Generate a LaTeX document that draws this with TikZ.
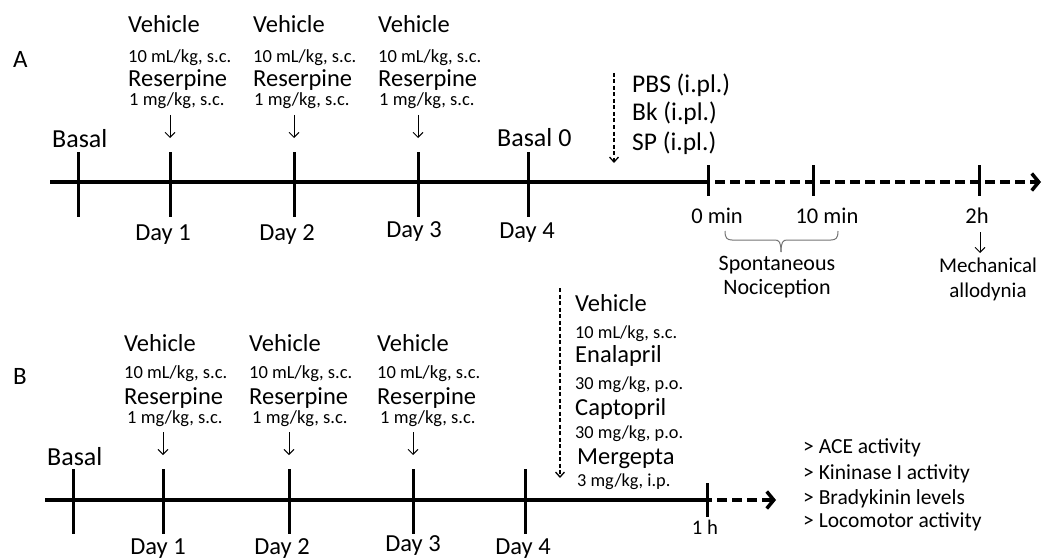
\documentclass[tikz,border=0pt]{standalone}
\usepackage{fontspec}
\setmainfont{Carlito}
\usetikzlibrary{arrows.meta}
\begin{document}
\begin{tikzpicture}[x=1pt,y=-1pt,
  lbl/.style={inner sep=0pt, anchor=base west},
  ctr/.style={inner sep=0pt, anchor=base},
  fbig/.style={font=\fontsize{24.5}{29}\selectfont},
  fsmall/.style={font=\fontsize{18.5}{22}\selectfont},
  fday/.style={font=\fontsize{24.5}{29}\selectfont},
  fbasal/.style={font=\fontsize{26}{30}\selectfont},
  fmid/.style={font=\fontsize{22.5}{27}\selectfont},
  fpbs/.style={font=\fontsize{25.5}{30}\selectfont},
  axis/.style={line width=4.2pt},
  dashaxis/.style={line width=4.2pt, dash pattern=on 10pt off 5pt, -{Straight Barb[length=7pt,width=17pt,line width=3.5pt]}},
  tick/.style={line width=3pt},
  thinarrow/.style={line width=0.9pt, -{Straight Barb[length=5pt,width=10pt,line width=0.9pt]}},
  dasharrow/.style={line width=1.3pt, dash pattern=on 4pt off 2.5pt, -{Straight Barb[length=5pt,width=9pt,line width=1.3pt]}},
  bracestyle/.style={line width=1pt, draw=black!55}
]
\useasboundingbox (0,0) rectangle (1043,559);

% ================= Panel A =================
\node[lbl, font=\fontsize{25}{29}\selectfont] (labA) at (13,68) {A};

\node[lbl,fbig] (a1v) at (128,33) {Vehicle};
\node[lbl,fsmall] (a1vd) at (128,63) {10 mL/kg, s.c.};
\node[lbl,fbig] (a1r) at (128,87) {Reserpine};
\node[lbl,fsmall] (a1rd) at (129,106) {1 mg/kg, s.c.};

\node[lbl,fbig] (a2v) at (253,33) {Vehicle};
\node[lbl,fsmall] (a2vd) at (253,63) {10 mL/kg, s.c.};
\node[lbl,fbig] (a2r) at (253,87) {Reserpine};
\node[lbl,fsmall] (a2rd) at (254,106) {1 mg/kg, s.c.};

\node[lbl,fbig] (a3v) at (378,33) {Vehicle};
\node[lbl,fsmall] (a3vd) at (378,63) {10 mL/kg, s.c.};
\node[lbl,fbig] (a3r) at (378,87) {Reserpine};
\node[lbl,fsmall] (a3rd) at (379,106) {1 mg/kg, s.c.};

\node[lbl,fbasal] (abasal) at (52,147) {Basal};
\node[lbl,fbasal] (abasal0) at (497,146.5) {Basal 0};

\node[lbl,fpbs] (pbs) at (632,93) {PBS (i.pl.)};
\node[lbl,fpbs] (bk) at (632,121) {Bk (i.pl.)};
\node[lbl,fpbs] (sp) at (632,150) {SP (i.pl.)};

\node[ctr,fday] (aday1) at (163,240) {Day 1};
\node[ctr,fday] (aday2) at (287,240) {Day 2};
\node[ctr,fday] (aday3) at (414,237) {Day 3};
\node[ctr,fday] (aday4) at (527,238) {Day 4};

\node[ctr,fmid] (m0) at (717,223) {0 min};
\node[ctr,fmid] (m10) at (827,223) {10 min};
\node[ctr,fmid] (h2) at (977,223) {2h};

\node[ctr, font=\fontsize{22}{26}\selectfont] (spont) at (777,270) {Spontaneous};
\node[ctr, font=\fontsize{22}{26}\selectfont] (noci) at (777,294) {Nociception};
\node[ctr, font=\fontsize{21}{25}\selectfont] (mech) at (988,272) {Mechanical};
\node[ctr, font=\fontsize{21}{25}\selectfont] (allo) at (988,297) {allodynia};

% axis A
\coordinate (aStart) at (50,182);
\coordinate (aSolidEnd) at (700,182);
\coordinate (aEnd) at (1041,182);
\draw[axis] (aStart) -- (aSolidEnd);
\draw[dashaxis] (aSolidEnd) -- (aEnd);

\foreach \n/\x in {tb/78, t1/170, t2/294, t3/418, t4/528}{
  \coordinate (a\n top) at (\x,152);
  \coordinate (a\n bot) at (\x,217);
  \draw[tick] (a\n top) -- (a\n bot);
}
\foreach \n/\x in {s0/708, s10/813, s2h/979}{
  \coordinate (a\n top) at (\x,165);
  \coordinate (a\n bot) at (\x,196);
  \draw[tick] (a\n top) -- (a\n bot);
}

\foreach \n/\x in {1/170, 2/294, 3/418}{
  \coordinate (aarr\n s) at (\x,115);
  \coordinate (aarr\n e) at (\x,138);
  \draw[thinarrow] (aarr\n s) -- (aarr\n e);
}
\coordinate (adashs) at (614,73);
\coordinate (adashe) at (614,163);
\draw[dasharrow] (adashs) -- (adashe);
\coordinate (h2s) at (980,232);
\coordinate (h2e) at (980,253);
\draw[thinarrow, line width=0.8pt] (h2s) -- (h2e);

% brace
\draw[bracestyle] (725,231) .. controls (725,238) and (727,240) .. (732,240) -- (775,240)
   .. controls (779,240) and (781,242) .. (781,252);
\draw[bracestyle] (838,231) .. controls (838,238) and (836,240) .. (831,240) -- (787,240)
   .. controls (783,240) and (781,242) .. (781,252);

% ================= Panel B =================
\node[lbl, font=\fontsize{25}{29}\selectfont] (labB) at (13,384) {B};

\node[lbl,fbig] (b1v) at (124,351) {Vehicle};
\node[lbl,fsmall] (b1vd) at (124,378.5) {10 mL/kg, s.c.};
\node[lbl,fbig] (b1r) at (124,404) {Reserpine};
\node[lbl,fsmall] (b1rd) at (127,423.5) {1 mg/kg, s.c.};

\node[lbl,fbig] (b2v) at (249,351) {Vehicle};
\node[lbl,fsmall] (b2vd) at (249,378.5) {10 mL/kg, s.c.};
\node[lbl,fbig] (b2r) at (249,404) {Reserpine};
\node[lbl,fsmall] (b2rd) at (252,423.5) {1 mg/kg, s.c.};

\node[lbl,fbig] (b3v) at (377,351) {Vehicle};
\node[lbl,fsmall] (b3vd) at (377,378.5) {10 mL/kg, s.c.};
\node[lbl,fbig] (b3r) at (377,404) {Reserpine};
\node[lbl,fsmall] (b3rd) at (380,423.5) {1 mg/kg, s.c.};

\node[lbl,fbasal] (bbasal) at (47,465) {Basal};

\node[lbl, font=\fontsize{24.5}{29}\selectfont] (bveh) at (575,311.7) {Vehicle};
\node[lbl, font=\fontsize{18.3}{22}\selectfont] (bvehd) at (575,338) {10 mL/kg, s.c.};
\node[lbl, font=\fontsize{24.5}{29}\selectfont] (bena) at (575,362.7) {Enalapril};
\node[lbl, font=\fontsize{18.3}{22}\selectfont] (benad) at (575,389) {30 mg/kg, p.o.};
\node[lbl, font=\fontsize{24.5}{29}\selectfont] (bcap) at (575,415.7) {Captopril};
\node[lbl, font=\fontsize{18.3}{22}\selectfont] (bcapd) at (575,438.5) {30 mg/kg, p.o.};
\node[lbl, font=\fontsize{24.5}{29}\selectfont] (bmer) at (577,464.7) {Mergepta};
\node[lbl, font=\fontsize{18.3}{22}\selectfont] (bmerd) at (577,486) {3 mg/kg, i.p.};

\node[ctr,fday] (bday1) at (158,554) {Day 1};
\node[ctr,fday] (bday2) at (282,554) {Day 2};
\node[ctr,fday] (bday3) at (413,551.5) {Day 3};
\node[ctr,fday] (bday4) at (523,554) {Day 4};

\node[ctr, font=\fontsize{20.7}{25}\selectfont] (h1) at (705,534.7) {1 h};

\node[lbl, font=\fontsize{21.5}{26}\selectfont] (o1) at (803,453) {> ACE activity};
\node[lbl, font=\fontsize{21.5}{26}\selectfont] (o2) at (803,479) {> Kininase I activity};
\node[lbl, font=\fontsize{21.5}{26}\selectfont] (o3) at (803,504) {> Bradykinin levels};
\node[lbl, font=\fontsize{21.5}{26}\selectfont] (o4) at (803,527) {> Locomotor activity};

% axis B
\coordinate (bStart) at (45,500);
\coordinate (bSolidEnd) at (702,500);
\coordinate (bEnd) at (776,500);
\draw[axis] (bStart) -- (bSolidEnd);
\draw[dashaxis] (bSolidEnd) -- (bEnd);

\foreach \n/\x in {tb/73, t1/163, t2/289, t3/413, t4/525}{
  \coordinate (b\n top) at (\x,469);
  \coordinate (b\n bot) at (\x,534);
  \draw[tick] (b\n top) -- (b\n bot);
}
\coordinate (bs1top) at (707,483);
\coordinate (bs1bot) at (707,517);
\draw[tick] (bs1top) -- (bs1bot);

\foreach \n/\x in {1/163, 2/289, 3/413}{
  \coordinate (barr\n s) at (\x,432);
  \coordinate (barr\n e) at (\x,455);
  \draw[thinarrow] (barr\n s) -- (barr\n e);
}
\coordinate (bdashs) at (560,288);
\coordinate (bdashe) at (560,478);
\draw[dasharrow] (bdashs) -- (bdashe);
\end{tikzpicture}
\end{document}
